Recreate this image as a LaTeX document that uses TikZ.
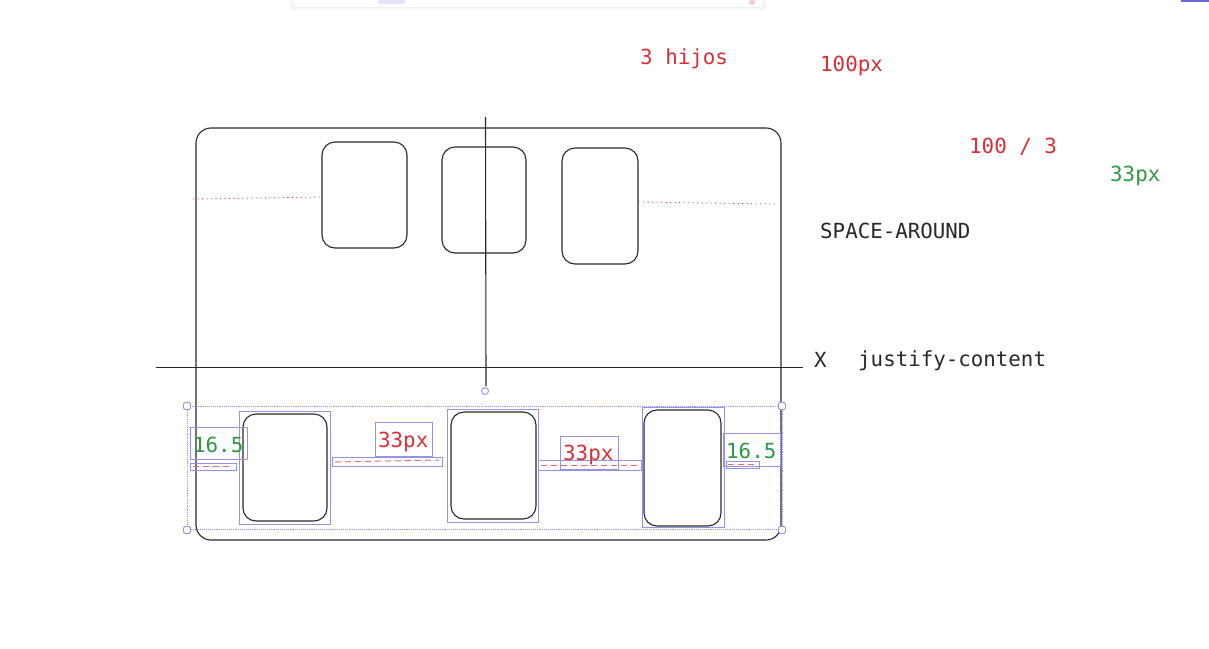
\documentclass[tikz,border=0pt]{standalone}
\usepackage{fontspec}
\setmonofont{DejaVu Sans Mono}
\usepackage{xcolor}
\usetikzlibrary{positioning, fit, backgrounds}
\definecolor{excred}{RGB}{218, 46, 54}
\definecolor{excgreen}{RGB}{47, 152, 68}
\definecolor{selpurple}{RGB}{150, 146, 230}
\definecolor{inkgray}{RGB}{40, 40, 40}
\definecolor{uiblue}{RGB}{105, 101, 219}

\begin{document}
\begin{tikzpicture}[
    x=1pt, y=-1pt,
    every node/.style={font=\ttfamily\fontsize{20.8}{24}\selectfont, inner sep=0pt},
    childbox/.style={draw=inkgray, line width=1.1pt, rounded corners=13pt},
    selbox/.style={draw=selpurple, line width=0.9pt},
    handle/.style={draw=selpurple, fill=white, line width=0.9pt, rounded corners=1.5pt, minimum size=7pt},
    gapdash/.style={excred!70, line width=1pt, dash pattern=on 6pt off 4pt},
    guide/.style={excred, line width=0.8pt, dash pattern=on 1pt off 3.5pt},
    redtxt/.style={text=excred, anchor=base west},
    greentxt/.style={text=excgreen, anchor=base west},
    inktxt/.style={text=inkgray, anchor=base west}
]
\useasboundingbox (0,0) rectangle (1209,648);

% Toolbar remains at the top edge
\fill[gray!6] (290,0) rectangle (766,10);
\node[fill=white, draw=gray!12, fit={(293,-3) (763,7)}] (toolbar) {};
\fill[selpurple!25] (378,0) rectangle (405,4);
\fill[excred!25] (752,2) circle (3);
\fill[uiblue] (1181,0) rectangle (1209,2);

% Parent container
\node[childbox, rounded corners=15pt, fit={(196,128) (781,540)}] (parent) {};

% Children, upper row
\node[childbox, fit={(322,142) (407,248)}] (top1) {};
\node[childbox, fit={(442,147) (526,253)}] (top2) {};
\node[childbox, fit={(562,148) (638,264)}] (top3) {};

% Red guides between parent and children
\coordinate (gl) at (193,199);
\coordinate (gr) at (776,204);
\draw[guide] (gl) -- (top1.west |- 0,197);
\draw[guide] (top3.east |- 0,202) -- (gr);

% Axes
\coordinate (ytop) at (485.5,117);
\coordinate (ybot) at (486,386);
\coordinate (xleft) at (156,367.5);
\coordinate (xright) at (803,367.5);
\draw[inkgray, line width=1.1pt] (ytop) -- (ybot);
\draw[inkgray, line width=1.1pt] (xleft) -- (xright);
\node[circle, draw=selpurple, line width=0.9pt, fill=white, minimum size=7pt] (rot) at (485,391) {};

% Selection of the lower row
\node[selbox, densely dotted, fit={(187,406) (782,529)}] (sel) {};
\foreach \hx/\hy [count=\i] in {187/406, 782/406, 187/530, 782/530} {
    \node[handle] (h\i) at (\hx,\hy) {};
}

% Children, lower row
\node[childbox, fit={(243,414) (327,521)}] (bot1) {};
\node[childbox, fit={(451,412) (536,519)}] (bot2) {};
\node[childbox, fit={(644,410) (721,526)}] (bot3) {};
\node[selbox, fit={(239,411) (330,524)}] (sel1) {};
\node[selbox, fit={(447,409) (538,522)}] (sel2) {};
\node[selbox, fit={(642,407) (724,527)}] (sel3) {};

% Gaps: label boxes and dashed spans
\node[selbox, fit={(190,427) (247,459)}] (lbla) {};
\node[selbox, fit={(375,422) (432,456)}] (lblb) {};
\node[selbox, fit={(560,436) (618,469)}] (lblc) {};
\node[selbox, fit={(723,433) (780,466)}] (lbld) {};
\node[selbox, fit={(190,463) (236,470)}] (spana) {};
\node[selbox, fit={(332,457) (442,466)}] (spanb) {};
\node[selbox, fit={(538,460) (641,470)}] (spanc) {};
\node[selbox, fit={(726,461) (759,468)}] (spand) {};
\draw[gapdash] (spana.west) ++(3,0) -- ++(40,0);
\draw[gapdash] (335,462) -- (439,460);
\draw[gapdash] (541,465) -- (639,465);
\draw[gapdash] (spand.west) ++(2,0) -- ++(29,0);

% Gap labels
\node[greentxt] (g1) at (193,452) {16.5};
\node[redtxt] (g2) at (378,447) {33px};
\node[redtxt] (g3) at (563,460) {33px};
\node[greentxt] (g4) at (726,458) {16.5};

% Notes
\node[redtxt] (hijos) at (640,64) {3 hijos};
\node[redtxt] (ancho) at (820,71) {100px};
\node[redtxt] (div) at (969,153) {100 / 3};
\node[greentxt] (res) at (1110,181) {33px};
\node[inktxt] (mode) at (820,238) {SPACE-AROUND};
\node[inktxt] (axisx) at (814,367) {X};
\node[inktxt] (prop) at (858,366) {justify-content};

\end{tikzpicture}
\end{document}
